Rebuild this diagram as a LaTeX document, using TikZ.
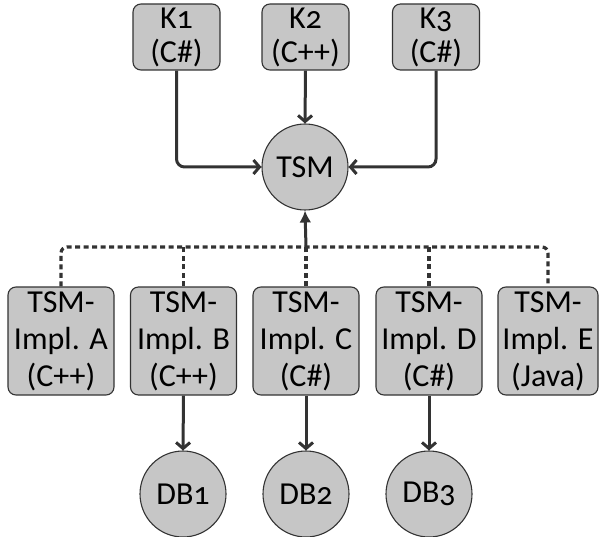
\documentclass[tikz,border=0pt]{standalone}
\usepackage{fontspec}
\setmainfont[Numbers=OldStyle]{Carlito}
\usetikzlibrary{arrows.meta}
\definecolor{nodefill}{RGB}{198,198,198}
\definecolor{linec}{RGB}{51,51,51}
\begin{document}
\begin{tikzpicture}[x=1pt,y=-1pt,
  txt/.style={font=\fontsize{32}{37}\selectfont, align=center, text=black},
  kbox/.style={txt, draw=linec, line width=1.1pt, fill=nodefill, rounded corners=8pt,
    minimum width=87pt, minimum height=66pt, inner sep=0pt},
  ibox/.style={txt, draw=linec, line width=1.1pt, fill=nodefill, rounded corners=8pt,
    minimum width=106pt, minimum height=108pt, inner sep=0pt},
  rnode/.style={txt, draw=linec, line width=1.1pt, fill=nodefill, circle,
    minimum size=86pt, inner sep=0pt},
  conn/.style={draw=linec, line width=3pt, -{Straight Barb[length=6pt,width=14pt]}, rounded corners=8pt},
  bus/.style={draw=linec, line width=3.2pt, dash pattern=on 5pt off 3.5pt, rounded corners=6pt}
]
\useasboundingbox (0,0) rectangle (599,537);

\node[kbox] (k1) at (176.5,37) {K1\\[-3pt](C\#)};
\node[kbox] (k2) at (305.5,37) {K2\\[-3pt](C++)};
\node[kbox] (k3) at (436,37) {K3\\[-3pt](C\#)};

\node[rnode] (tsm) at (305,167) {TSM};

\node[ibox] (a) at (61,341) {TSM-\\Impl. A\\(C++)};
\node[ibox] (b) at (183.5,341) {TSM-\\Impl. B\\(C++)};
\node[ibox] (c) at (306,341) {TSM-\\Impl. C\\(C\#)};
\node[ibox] (d) at (429,341) {TSM-\\Impl. D\\(C\#)};
\node[ibox, minimum width=100pt] (e) at (548,341) {TSM-\\Impl. E\\(Java)};

\node[rnode] (db1) at (183,494) {DB1};
\node[rnode] (db2) at (306,494) {DB2};
\node[rnode] (db3) at (429,494) {DB3};

\draw[conn] (k1.south) |- (tsm.west);
\draw[conn] (k2.south) -- (tsm.north);
\draw[conn] (k3.south) |- (tsm.east);

\coordinate (busc) at (306,247);
\draw[bus] (a.north) |- (busc) -| (e.north);
\draw[bus] (b.north) -- (b.north |- busc);
\draw[bus] (c.north) -- (c.north |- busc);
\draw[bus] (d.north) -- (d.north |- busc);
\draw[draw=linec, line width=3pt, -{Latex[length=12pt,width=12pt]}] (busc) -- (tsm.south);

\draw[conn] (b.south) -- (db1.north);
\draw[conn] (c.south) -- (db2.north);
\draw[conn] (d.south) -- (db3.north);
\end{tikzpicture}
\end{document}
